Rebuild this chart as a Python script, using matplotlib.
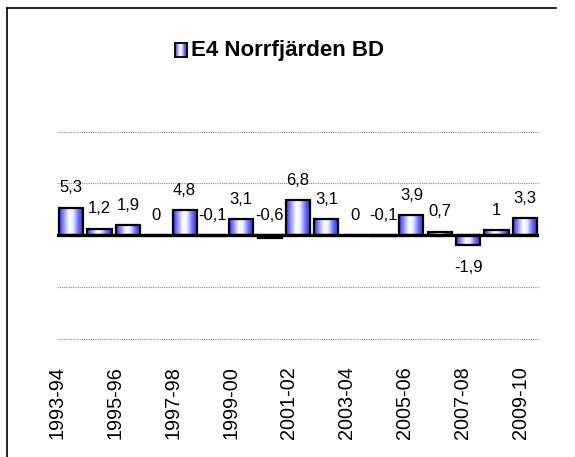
import numpy as np
import matplotlib
matplotlib.use("Agg")
import matplotlib.pyplot as plt
from matplotlib.colors import LinearSegmentedColormap
from matplotlib.lines import Line2D

plt.rcParams['font.family'] = ['Liberation Sans', 'DejaVu Sans']

categories = ["1993-94", "1994-95", "1995-96", "1996-97", "1997-98", "1998-99",
              "1999-00", "2000-01", "2001-02", "2002-03", "2003-04", "2004-05",
              "2005-06", "2006-07", "2007-08", "2008-09", "2009-10"]
values = [5.3, 1.2, 1.9, 0, 4.8, -0.1, 3.1, -0.6, 6.8, 3.1, 0, -0.1, 3.9, 0.7, -1.9, 1, 3.3]
tick_labels = categories[::2]
title = "E4 Norrfjärden BD"

W, H = 575, 457
fig = plt.figure(figsize=(W / 100, H / 100), dpi=100)
fig.patch.set_facecolor('white')

def fx(px):
    return px / W

def fy(py):
    return 1 - py / H

# outer frame (left and top edges)
fig.add_artist(Line2D([fx(7), fx(7)], [fy(8), fy(H + 5)], color='black', lw=1.2,
                      transform=fig.transFigure))
fig.add_artist(Line2D([fx(7), fx(556)], [fy(8), fy(8)], color='black', lw=1.2,
                      transform=fig.transFigure))

left, right, top, bottom = 57, 539, 131.7, 338.7
ax = fig.add_axes([fx(left), fy(bottom), fx(right - left), fy(top) - fy(bottom)])

cmap = LinearSegmentedColormap.from_list(
    "bar", [(0.0, '#2e2ee0'), (0.16, '#8080ff'), (0.40, '#ffffff'), (0.56, '#eeeeff'),
            (0.80, '#6262f6'), (1.0, '#2828cc')])
grad = np.linspace(0, 1, 256).reshape(1, -1)

x = np.arange(len(values))
bars = ax.bar(x, values, width=0.85, fill=False, edgecolor='black', linewidth=1.6, zorder=3)
for b in bars:
    x0, w, h = b.get_x(), b.get_width(), b.get_height()
    ax.imshow(grad, extent=(x0, x0 + w, min(0, h), max(0, h)), aspect='auto',
              cmap=cmap, zorder=2, interpolation='bilinear')

ax.set_xlim(-0.5, len(values) - 0.5)
ax.set_ylim(-20, 20)
for g in [-20, -10, 10, 20]:
    ax.axhline(g, color='#8a8a8a', lw=0.8, linestyle=(0, (1, 1)), zorder=1, clip_on=False)
ax.axhline(0, color='black', lw=2.4, zorder=4)

for s in ax.spines.values():
    s.set_visible(False)
ax.set_yticks([])
ax.set_xticks([])
ax.patch.set_alpha(0)

# value labels
for xi, v in zip(x, values):
    txt = f"{v:g}".replace('.', ',')
    if v > -1:
        y0, off = max(v, 0), 14.4
    else:
        y0, off = v, -16.5
    ax.annotate(txt, (xi, y0), xytext=(0, off), textcoords='offset points',
                ha='center', va='center', fontsize=12, zorder=5)

# category labels axis
ax2 = ax.twiny()
ax2.set_xlim(0.103, 16.65)
ax2.xaxis.set_ticks_position('bottom')
ax2.set_xticks(np.arange(0, len(categories), 2))
ax2.set_xticklabels(tick_labels, rotation=90, fontsize=14.3, va='top', ha='center')
ax2.tick_params(axis='x', length=0, pad=19.5)
for s in ax2.spines.values():
    s.set_visible(False)
ax2.set_yticks([])

# title with legend key
fig.text(fx(191), fy(50.5), title, fontsize=16, fontweight='bold', ha='left', va='center')
kax = fig.add_axes([fx(175), fy(57), fx(12), fy(43) - fy(57)])
kax.imshow(grad, aspect='auto', cmap=cmap, extent=(0, 1, 0, 1))
kax.set_xticks([])
kax.set_yticks([])
for s in kax.spines.values():
    s.set_linewidth(1.3)

fig.savefig("out.png", dpi=100)
